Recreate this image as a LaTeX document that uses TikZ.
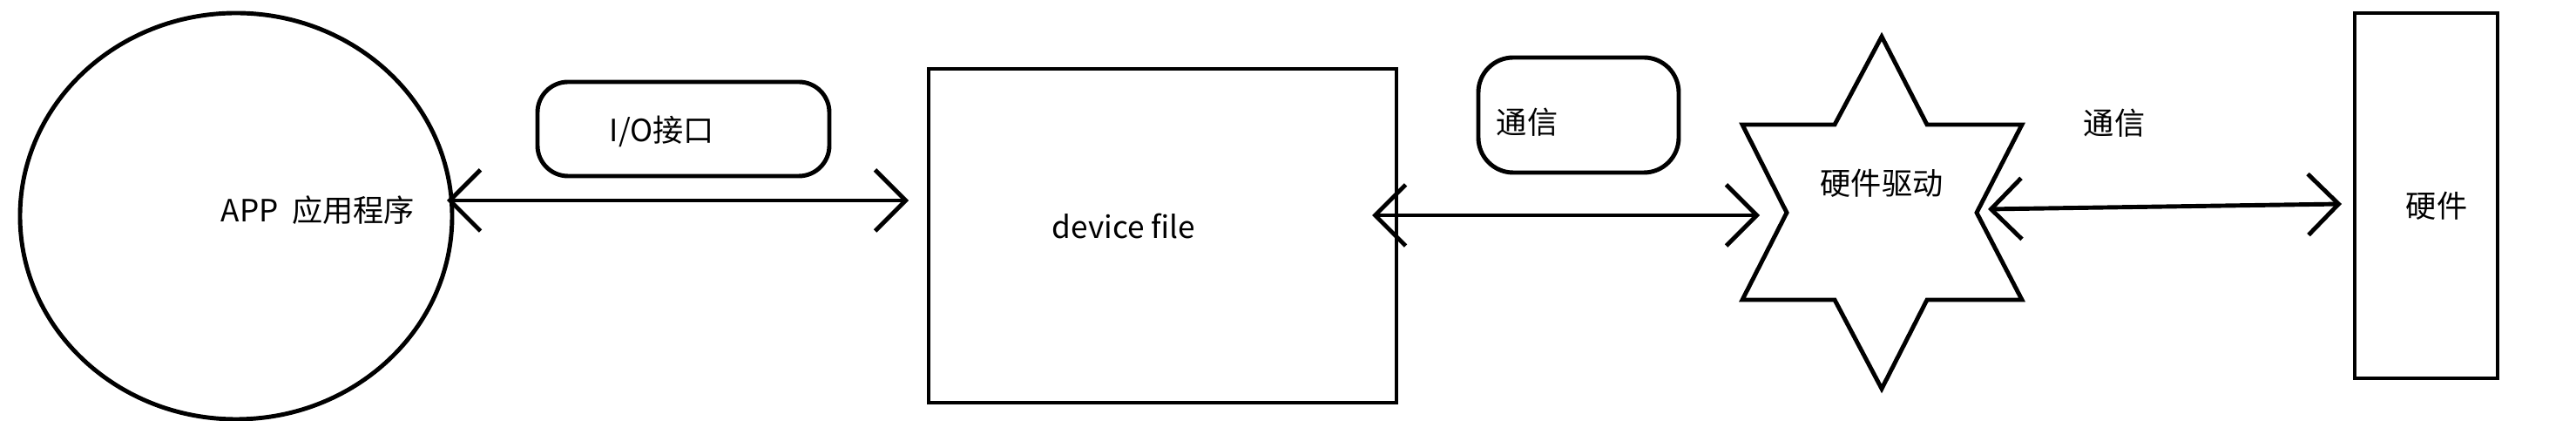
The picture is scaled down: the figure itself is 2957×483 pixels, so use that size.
\documentclass[tikz,border=0pt]{standalone}
\usepackage{fontspec}
\setmainfont{Noto Sans CJK SC}
\usetikzlibrary{arrows.meta,shapes.geometric}
\tikzset{
  outline/.style={draw,line width=1.4pt},
  lbl/.style={font=\fontsize{10}{12}\selectfont,inner sep=0pt},
  link/.style={line width=1.4pt,{Straight Barb[length=3.5mm,width=7mm]}-{Straight Barb[length=3.5mm,width=7mm]}}
}
\begin{document}
\begin{tikzpicture}[x=0.01cm,y=-0.01cm]
\useasboundingbox (0,0) rectangle (2957,483);
% app
\draw[outline] (271,248) ellipse (248 and 233);
\node[lbl] (app) at (365,241) {APP\ \ 应用程序};
% io label box
\draw[outline,rounded corners=0.35cm] (617,94) rectangle (952,202);
\node[lbl] (io) at (760,151) {I/O接口};
% device file
\draw[outline] (1066,79) rectangle (1603,462);
\node[lbl] (dev) at (1290,260) {device file};
% comm box
\draw[outline,rounded corners=0.4cm] (1697,66) rectangle (1927,198);
\node[lbl] (comm1) at (1753,140) {通信};
% driver star
\draw[outline,line join=miter] (2160,42) -- (2212,143) -- (2321,143) -- (2269,244) -- (2321,344)
  -- (2212,344) -- (2160,446) -- (2106,344) -- (2000,344) -- (2051,244) -- (2000,143) -- (2106,143) -- cycle;
\node[lbl] (drv) at (2160,210) {硬件驱动};
\node[lbl] (comm2) at (2427,141) {通信};
% hardware
\draw[outline] (2703,15) rectangle (2867,434);
\node[lbl] (hw) at (2797,236) {硬件};
% connectors
\coordinate (a1) at (513,230);
\coordinate (a2) at (1043,230);
\coordinate (b1) at (1575,247);
\coordinate (b2) at (2020,247);
\coordinate (c1) at (2282,240);
\coordinate (c2) at (2688,234);
\draw[link] (a1) -- (a2);
\draw[link] (b1) -- (b2);
\draw[link] (c1) -- (c2);
\end{tikzpicture}
\end{document}
